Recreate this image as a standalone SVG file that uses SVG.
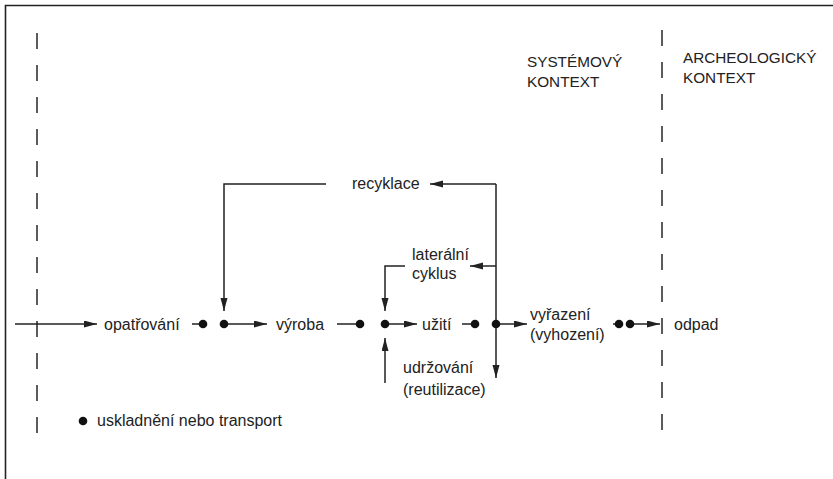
<svg xmlns="http://www.w3.org/2000/svg" width="833" height="479" viewBox="0 0 833 479">
<style>
.t{font-family:"Liberation Sans",Arial,sans-serif;font-size:16px;fill:#222}
.caps{font-size:15.3px}
.c{fill:none;stroke:#222;stroke-width:1.5}
.a{marker-end:url(#ah)}
.d{fill:#111}
.dash{fill:none;stroke:#333;stroke-width:1.6;stroke-dasharray:16 16}
.frame{fill:none;stroke:#222;stroke-width:1.6}
</style>
<defs>
<marker id="ah" markerUnits="userSpaceOnUse" markerWidth="14" markerHeight="8" refX="13" refY="3.5" orient="auto">
<path d="M0,0 L13,3.5 L0,7 z" fill="#222"/>
</marker>
</defs>
<rect width="833" height="479" fill="#fff"/>
<path class="frame" d="M5.5,479 V5.5 H833"/>
<g id="boundaries">
<line class="dash" x1="37" y1="33" x2="37" y2="434"/>
<line class="dash" x1="662" y1="30" x2="662" y2="431"/>
</g>
<g id="connectors">
<path class="c a" d="M15,324 H97"/>
<path class="c" d="M192,324 H203"/>
<path class="c a" d="M223,324 H267"/>
<path class="c" d="M337,324 H360"/>
<path class="c a" d="M385,324 H417"/>
<path class="c" d="M462,324 H475"/>
<path class="c a" d="M496,324 H527"/>
<path class="c" d="M613,324 H619"/>
<path class="c a" d="M630,324 H660"/>
<path class="c a" d="M496,184 V378"/>
<path class="c a" d="M496,184 H430"/>
<path class="c a" d="M326,184 H224 V311"/>
<path class="c a" d="M496,266 H470"/>
<path class="c a" d="M405,266 H385 V311"/>
<path class="c a" d="M385,383 V338"/>
</g>
<g id="dots">
<circle class="d" cx="203" cy="324" r="4.3"/>
<circle class="d" cx="224" cy="324" r="4.3"/>
<circle class="d" cx="360" cy="324" r="4.3"/>
<circle class="d" cx="385" cy="324" r="4.3"/>
<circle class="d" cx="475" cy="324" r="4.3"/>
<circle class="d" cx="496" cy="324" r="4.3"/>
<circle class="d" cx="619" cy="324" r="4.3"/>
<circle class="d" cx="630" cy="324" r="4.3"/>
</g>
<g id="opatrovani"><text class="t" x="104" y="330">opatřování</text></g>
<g id="vyroba"><text class="t" x="276" y="330">výroba</text></g>
<g id="uziti"><text class="t" x="422" y="330">užití</text></g>
<g id="vyrazeni"><text class="t" x="530" y="320">vyřazení</text><text class="t" x="530" y="340">(vyhození)</text></g>
<g id="odpad"><text class="t" x="674" y="330">odpad</text></g>
<g id="udrzovani"><text class="t" x="403" y="373">udržování</text><text class="t" x="403" y="395">(reutilizace)</text></g>
<g id="lateralni"><text class="t" x="412" y="260">laterální</text><text class="t" x="412" y="279">cyklus</text></g>
<g id="recyklace"><text class="t" x="352" y="189">recyklace</text></g>
<g id="systemovy"><text class="t caps" x="527" y="67">SYSTÉMOVÝ</text><text class="t caps" x="527" y="87">KONTEXT</text></g>
<g id="archeologicky"><text class="t caps" x="683" y="63">ARCHEOLOGICKÝ</text><text class="t caps" x="683" y="83">KONTEXT</text></g>
<g id="legend"><circle class="d" cx="83" cy="421" r="4.3"/><text class="t" x="97" y="426">uskladnění nebo transport</text></g>
</svg>
